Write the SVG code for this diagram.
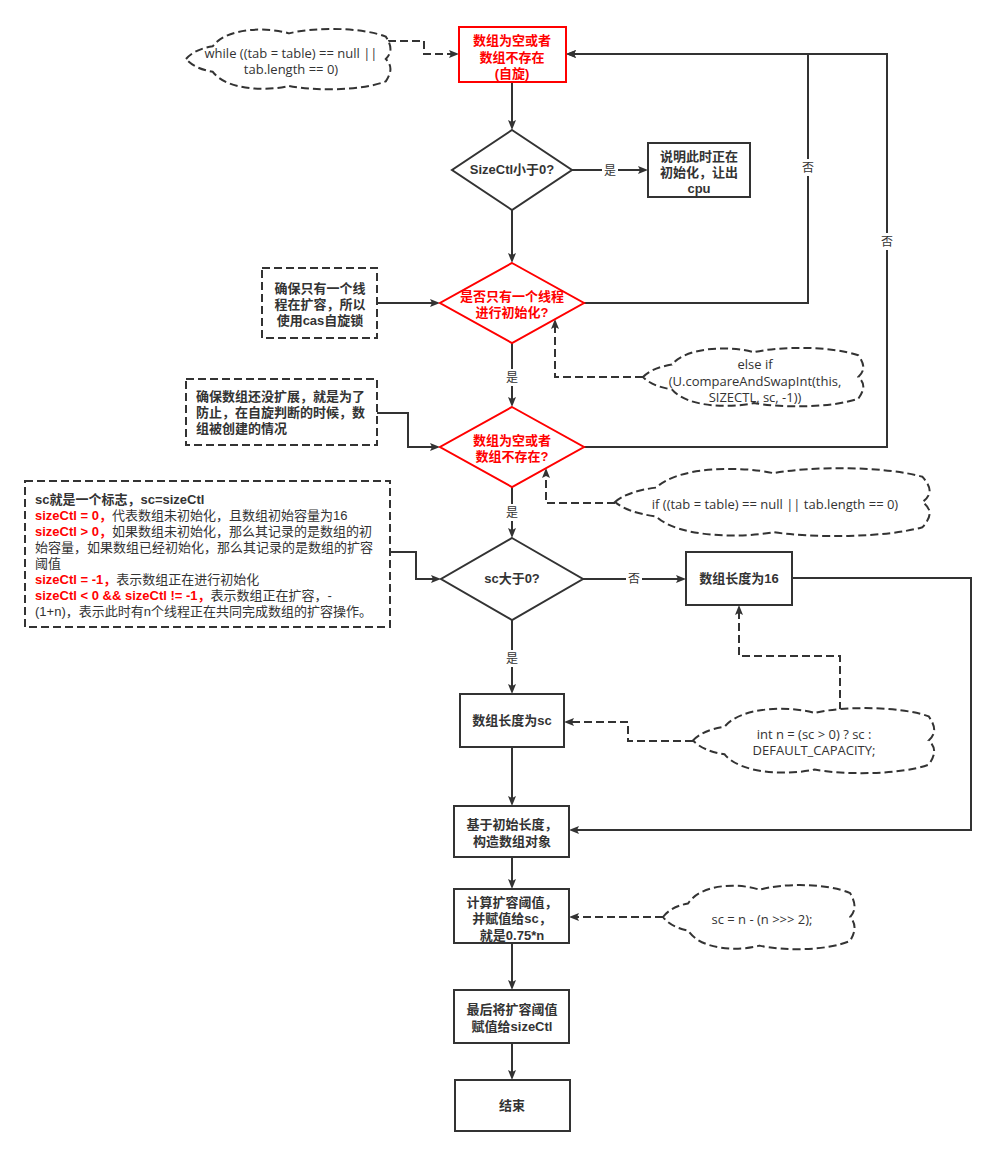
<svg xmlns="http://www.w3.org/2000/svg" width="997" height="1156" viewBox="0 0 997 1156">
<style>
.n{fill:#fff;stroke:#333;stroke-width:2}
.r{fill:#fff;stroke:#f00;stroke-width:2}
.d{fill:#fff;stroke:#333;stroke-width:2;stroke-dasharray:8 4}
.c{fill:none;stroke:#333;stroke-width:2}
.cd{fill:none;stroke:#333;stroke-width:2;stroke-dasharray:8 4}
text{font-family:"Liberation Sans","Noto Sans CJK SC",sans-serif;font-size:13px;fill:#333}
.b{font-weight:bold}
.red{fill:#f00;font-weight:bold}
.m{text-anchor:middle}
.code{font-family:"Open Sans","Noto Sans CJK SC",sans-serif;font-size:13px}
.lbl{font-size:12px;text-anchor:middle}
.bg{fill:#fff}
</style>
<defs>
<marker id="ar" viewBox="0 0 10 8" refX="2" refY="4" markerWidth="10" markerHeight="8" orient="auto" markerUnits="userSpaceOnUse"><path d="M0,0 L10,4 L0,8 L2,4 Z" fill="#333"/></marker>
</defs>
<rect width="997" height="1156" fill="#fff"/>

<g id="connectors">
<path class="c" d="M512,82 V122" marker-end="url(#ar)"/>
<path class="c" d="M572,170 H640" marker-end="url(#ar)"/>
<path class="c" d="M512,210 V255" marker-end="url(#ar)"/>
<path class="c" d="M377,303 H432" marker-end="url(#ar)"/>
<path class="c" d="M584,447 H887 V54 H574" marker-end="url(#ar)"/>
<path class="c" d="M584,303 H808 V54 H574" marker-end="url(#ar)"/>
<path class="c" d="M512,343 V399" marker-end="url(#ar)"/>
<path class="c" d="M377,413 H408 V447 H432" marker-end="url(#ar)"/>
<path class="c" d="M512,487 V530" marker-end="url(#ar)"/>
<path class="c" d="M390,552 H416 V579 H433" marker-end="url(#ar)"/>
<path class="c" d="M583,579 H678" marker-end="url(#ar)"/>
<path class="c" d="M792,578 H971 V830 H577" marker-end="url(#ar)"/>
<path class="c" d="M512,620 V686" marker-end="url(#ar)"/>
<path class="c" d="M512,747 V798" marker-end="url(#ar)"/>
<path class="c" d="M512,857 V881" marker-end="url(#ar)"/>
<path class="c" d="M512,943 V982" marker-end="url(#ar)"/>
<path class="c" d="M512,1043 V1072" marker-end="url(#ar)"/>
<path class="cd" d="M388,41 H424 V54 H451" marker-end="url(#ar)"/>
<path class="cd" d="M643,377 H555 V327" marker-end="url(#ar)"/>
<path class="cd" d="M615,503 H546 V476" marker-end="url(#ar)"/>
<path class="cd" d="M693,741 H628 V722 H572" marker-end="url(#ar)"/>
<path class="cd" d="M840,710 V656 H739 V613" marker-end="url(#ar)"/>
<path class="cd" d="M663,917 H577" marker-end="url(#ar)"/>
<rect class="bg" x="602" y="162" width="16" height="17"/><text class="lbl" x="610" y="175">是</text>
<rect class="bg" x="800" y="159" width="16" height="17"/><text class="lbl" x="808" y="172">否</text>
<rect class="bg" x="879" y="233" width="16" height="17"/><text class="lbl" x="887" y="246">否</text>
<rect class="bg" x="504" y="369" width="16" height="17"/><text class="lbl" x="512" y="382">是</text>
<rect class="bg" x="504" y="504" width="16" height="17"/><text class="lbl" x="512" y="517">是</text>
<rect class="bg" x="626" y="570" width="16" height="17"/><text class="lbl" x="634" y="583">否</text>
<rect class="bg" x="504" y="650" width="16" height="17"/><text class="lbl" x="512" y="663">是</text>
</g>

<g id="start">
<rect class="r" x="459" y="27" width="107" height="55"/>
<text class="red m" x="512" y="45">数组为空或者</text>
<text class="red m" x="512" y="62">数组不存在</text>
<text class="red m" x="512" y="78">(自旋)</text>
</g>

<g id="cloud-while">
<path class="d" d="M186,59 Q194.2,49.4 212.8,46.2 C227.2,27 268.4,27 289,33.4 C313.7,27 361.1,27 385.8,36.6 C392,46.2 392,52.6 385.8,59 C392,65.4 392,71.8 385.8,81.4 C361.1,91 313.7,91 289,85.9 C268.4,91 227.2,91 212.8,71.8 Q194.2,68.6 186,59 Z"/>
<text class="code m" x="291" y="58">while ((tab = table) == null ||</text>
<text class="code m" x="291" y="74">tab.length == 0)</text>
</g>

<g id="sizectl">
<path class="n" d="M512,130 L572,170 L512,210 L452,170 Z"/>
<text class="b m" x="512" y="174">SizeCtl小于0?</text>
</g>

<g id="yield">
<rect class="n" x="648" y="143" width="102" height="54"/>
<text class="b m" x="699" y="161">说明此时正在</text>
<text class="b m" x="699" y="177">初始化，让出</text>
<text class="b m" x="699" y="193">cpu</text>
</g>

<g id="cas-note">
<rect class="d" x="262" y="268" width="115" height="70"/>
<text class="b m" x="320" y="293">确保只有一个线</text>
<text class="b m" x="320" y="309">程在扩容，所以</text>
<text class="b m" x="320" y="325">使用cas自旋锁</text>
</g>

<g id="only-one">
<path class="r" d="M512,263 L584,303 L512,343 L440,303 Z"/>
<text class="red m" x="512" y="301">是否只有一个线程</text>
<text class="red m" x="512" y="317">进行初始化?</text>
</g>

<g id="cloud-cas">
<path class="d" d="M643,377 Q651.9,367.7 671.9,364.6 C687.4,346 731.8,346 754,352.2 C780.6,346 831.7,346 858.3,355.3 C865,364.6 865,370.8 858.3,377 C865,383.2 865,389.4 858.3,398.7 C831.7,408 780.6,408 754,403 C731.8,408 687.4,408 671.9,389.4 Q651.9,386.3 643,377 Z"/>
<text class="code m" x="755" y="369">else if</text>
<text class="code m" x="755" y="386">(U.compareAndSwapInt(this,</text>
<text class="code m" x="755" y="402">SIZECTL, sc, -1))</text>
</g>

<g id="recheck-note">
<rect class="d" x="186" y="379" width="191" height="66"/>
<text class="b" x="196" y="401">确保数组还没扩展，就是为了</text>
<text class="b" x="196" y="417">防止，在自旋判断的时候，数</text>
<text class="b" x="196" y="433">组被创建的情况</text>
</g>

<g id="recheck">
<path class="r" d="M512,407 L584,447 L512,487 L440,447 Z"/>
<text class="red m" x="512" y="445">数组为空或者</text>
<text class="red m" x="512" y="461">数组不存在?</text>
</g>

<g id="cloud-if">
<path class="d" d="M615,502 Q627.7,491.2 656.2,487.6 C678.4,466 741.8,466 773.5,473.2 C811.5,466 884.5,466 922.5,476.8 C932,487.6 932,494.8 922.5,502 C932,509.2 932,516.4 922.5,527.2 C884.5,538 811.5,538 773.5,532.2 C741.8,538 678.4,538 656.2,516.4 Q627.7,512.8 615,502 Z"/>
<text class="code m" x="775" y="509">if ((tab = table) == null || tab.length == 0)</text>
</g>

<g id="sc-note">
<rect class="d" x="25" y="481" width="365" height="146"/>
<text class="b" x="35" y="504">sc就是一个标志，sc=sizeCtl</text>
<text x="35" y="520"><tspan class="red">sizeCtl = 0，</tspan>代表数组未初始化，且数组初始容量为16</text>
<text x="35" y="536"><tspan class="red">sizeCtl &gt; 0，</tspan>如果数组未初始化，那么其记录的是数组的初</text>
<text x="35" y="552">始容量，如果数组已经初始化，那么其记录的是数组的扩容</text>
<text x="35" y="568">阈值</text>
<text x="35" y="584"><tspan class="red">sizeCtl = -1，</tspan>表示数组正在进行初始化</text>
<text x="35" y="600"><tspan class="red">sizeCtl &lt; 0 &amp;&amp; sizeCtl != -1，</tspan>表示数组正在扩容，-</text>
<text x="35" y="616">(1+n)，表示此时有n个线程正在共同完成数组的扩容操作。</text>
</g>

<g id="sc-gt-0">
<path class="n" d="M512,538 L583,579 L512,620 L441,579 Z"/>
<text class="b m" x="512" y="583">sc大于0?</text>
</g>

<g id="len16">
<rect class="n" x="686" y="552" width="106" height="53"/>
<text class="b m" x="739" y="583">数组长度为16</text>
</g>

<g id="lensc">
<rect class="n" x="460" y="694" width="104" height="53"/>
<text class="b m" x="512" y="725">数组长度为sc</text>
</g>

<g id="cloud-n">
<path class="d" d="M693,740.5 Q702.7,730.2 724.6,726.7 C741.6,706 790.2,706 814.5,712.9 C843.7,706 899.6,706 928.7,716.4 C936,726.7 936,733.6 928.7,740.5 C936,747.4 936,754.3 928.7,764.7 C899.6,775 843.7,775 814.5,769.5 C790.2,775 741.6,775 724.6,754.3 Q702.7,750.9 693,740.5 Z"/>
<text class="code m" x="814" y="739">int n = (sc &gt; 0) ? sc :</text>
<text class="code m" x="814" y="755">DEFAULT_CAPACITY;</text>
</g>

<g id="build">
<rect class="n" x="454" y="806" width="115" height="51"/>
<text class="b m" x="512" y="829">基于初始长度，</text>
<text class="b m" x="512" y="846">构造数组对象</text>
</g>

<g id="threshold">
<rect class="n" x="454" y="889" width="115" height="54"/>
<text class="b m" x="512" y="907">计算扩容阈值，</text>
<text class="b m" x="512" y="923">并赋值给sc，</text>
<text class="b m" x="512" y="940">就是0.75*n</text>
</g>

<g id="cloud-sc">
<path class="d" d="M663,917 Q670.7,906.8 688.1,903.4 C701.6,883 740.2,883 759.5,889.8 C782.7,883 827.1,883 850.2,893.2 C856,903.4 856,910.2 850.2,917 C856,923.8 856,930.6 850.2,940.8 C827.1,951 782.7,951 759.5,945.6 C740.2,951 701.6,951 688.1,930.6 Q670.7,927.2 663,917 Z"/>
<text class="code m" x="762" y="924">sc = n - (n &gt;&gt;&gt; 2);</text>
</g>

<g id="assign">
<rect class="n" x="454" y="990" width="115" height="53"/>
<text class="b m" x="512" y="1014">最后将扩容阈值</text>
<text class="b m" x="512" y="1031">赋值给sizeCtl</text>
</g>

<g id="end">
<rect class="n" x="455" y="1080" width="115" height="51"/>
<text class="b m" x="512" y="1110">结束</text>
</g>
</svg>
